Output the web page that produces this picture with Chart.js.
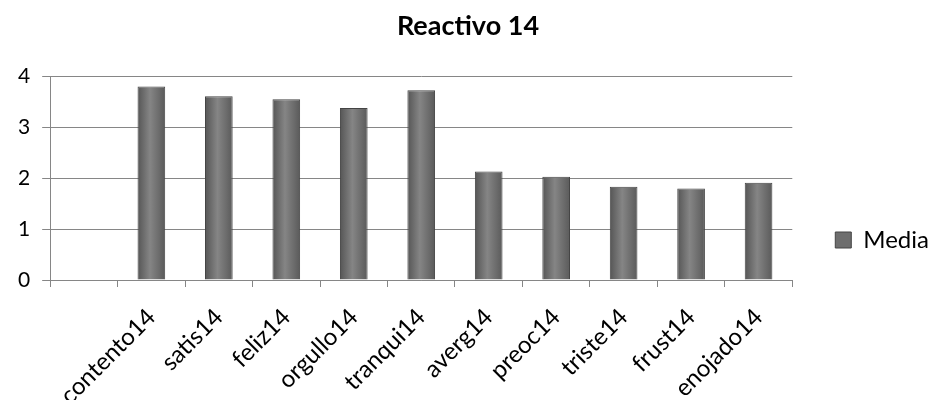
<!DOCTYPE html>
<html>
<head>
<meta charset="utf-8">
<script src="https://cdn.jsdelivr.net/npm/chart.js@4/dist/chart.umd.min.js"></script>
<style>
  body { margin: 0; background: #fff; }
  #wrap { width: 930px; height: 400px; }
</style>
</head>
<body>
<div id="wrap"><canvas id="grafico"></canvas></div>
<script>
// Datos
const categorias = ["", "contento14", "satis14", "feliz14", "orgullo14", "tranqui14",
                    "averg14", "preoc14", "triste14", "frust14", "enojado14"];
const media = [null, 3.80, 3.61, 3.55, 3.38, 3.73, 2.13, 2.03, 1.83, 1.80, 1.91];
const ticksY = [0, 1, 2, 3, 4];

const fuente = "Lato, 'Open Sans', sans-serif";
const gris = "#868686";
const anchoBarra = 0.41;

// mover la leyenda (más abajo y un poco a la derecha), como en el original
const moverLeyenda = {
    id: "moverLeyenda",
    afterLayout(chart) {
        chart.legend.top += 40;
        chart.legend.bottom += 40;
        chart.legend.left += 9;
        chart.legend.right += 9;
    }
};

// degradado horizontal en cada barra (bordes oscuros, centro claro)
function colorBarra(ctx) {
    const chart = ctx.chart;
    const x = chart.scales.x;
    if (!chart.chartArea || ctx.type !== "data") return "#777";
    const cx = x.getPixelForValue(ctx.dataIndex);
    const mitad = x.width / categorias.length * anchoBarra / 2;
    const g = chart.ctx.createLinearGradient(cx - mitad, 0, cx + mitad, 0);
    g.addColorStop(0, "#555");
    g.addColorStop(0.45, "#858585");
    g.addColorStop(1, "#5a5a5a");
    return g;
}

new Chart(document.getElementById("grafico"), {
    type: "bar",
    data: {
        labels: categorias,
        datasets: [{
            label: "Media",
            data: media,
            backgroundColor: colorBarra,
            borderColor: "#444",
            borderWidth: 1,
            barPercentage: anchoBarra,
            categoryPercentage: 1
        }]
    },
    options: {
        responsive: true,
        maintainAspectRatio: false,
        animation: false,
        layout: { padding: { left: 6, right: 0, top: 0, bottom: 0 } },
        plugins: {
            title: {
                display: true,
                text: "Reactivo 14",
                color: "#000",
                font: { family: fuente, size: 27, weight: "bold" },
                padding: { top: 10, bottom: 34 }
            },
            legend: {
                position: "right",
                labels: {
                    color: "#000",
                    font: { family: fuente, size: 24 },
                    boxWidth: 16,
                    boxHeight: 16,
                    padding: 34,
                    generateLabels: chart => [{
                        text: "Media",
                        fillStyle: "#6e6e6e",
                        strokeStyle: "#444",
                        lineWidth: 1,
                        datasetIndex: 0
                    }]
                }
            },
            tooltip: { enabled: false }
        },
        scales: {
            x: {
                offset: true,
                afterFit: s => { s.height = 120; },
                grid: {
                    offset: true,
                    drawOnChartArea: false,
                    color: gris,
                    tickLength: 7
                },
                border: { color: gris },
                ticks: {
                    color: "#000",
                    font: { family: fuente, size: 24 },
                    maxRotation: 45,
                    minRotation: 45,
                    autoSkip: false,
                    padding: 16
                }
            },
            y: {
                min: 0,
                max: 4,
                afterBuildTicks: axis => { axis.ticks = ticksY.map(v => ({ value: v })); },
                grid: { color: gris, tickLength: 8 },
                border: { color: gris },
                ticks: {
                    color: "#000",
                    font: { family: fuente, size: 21 },
                    padding: 12
                }
            }
        }
    },
    plugins: [moverLeyenda]
});
</script>
</body>
</html>
